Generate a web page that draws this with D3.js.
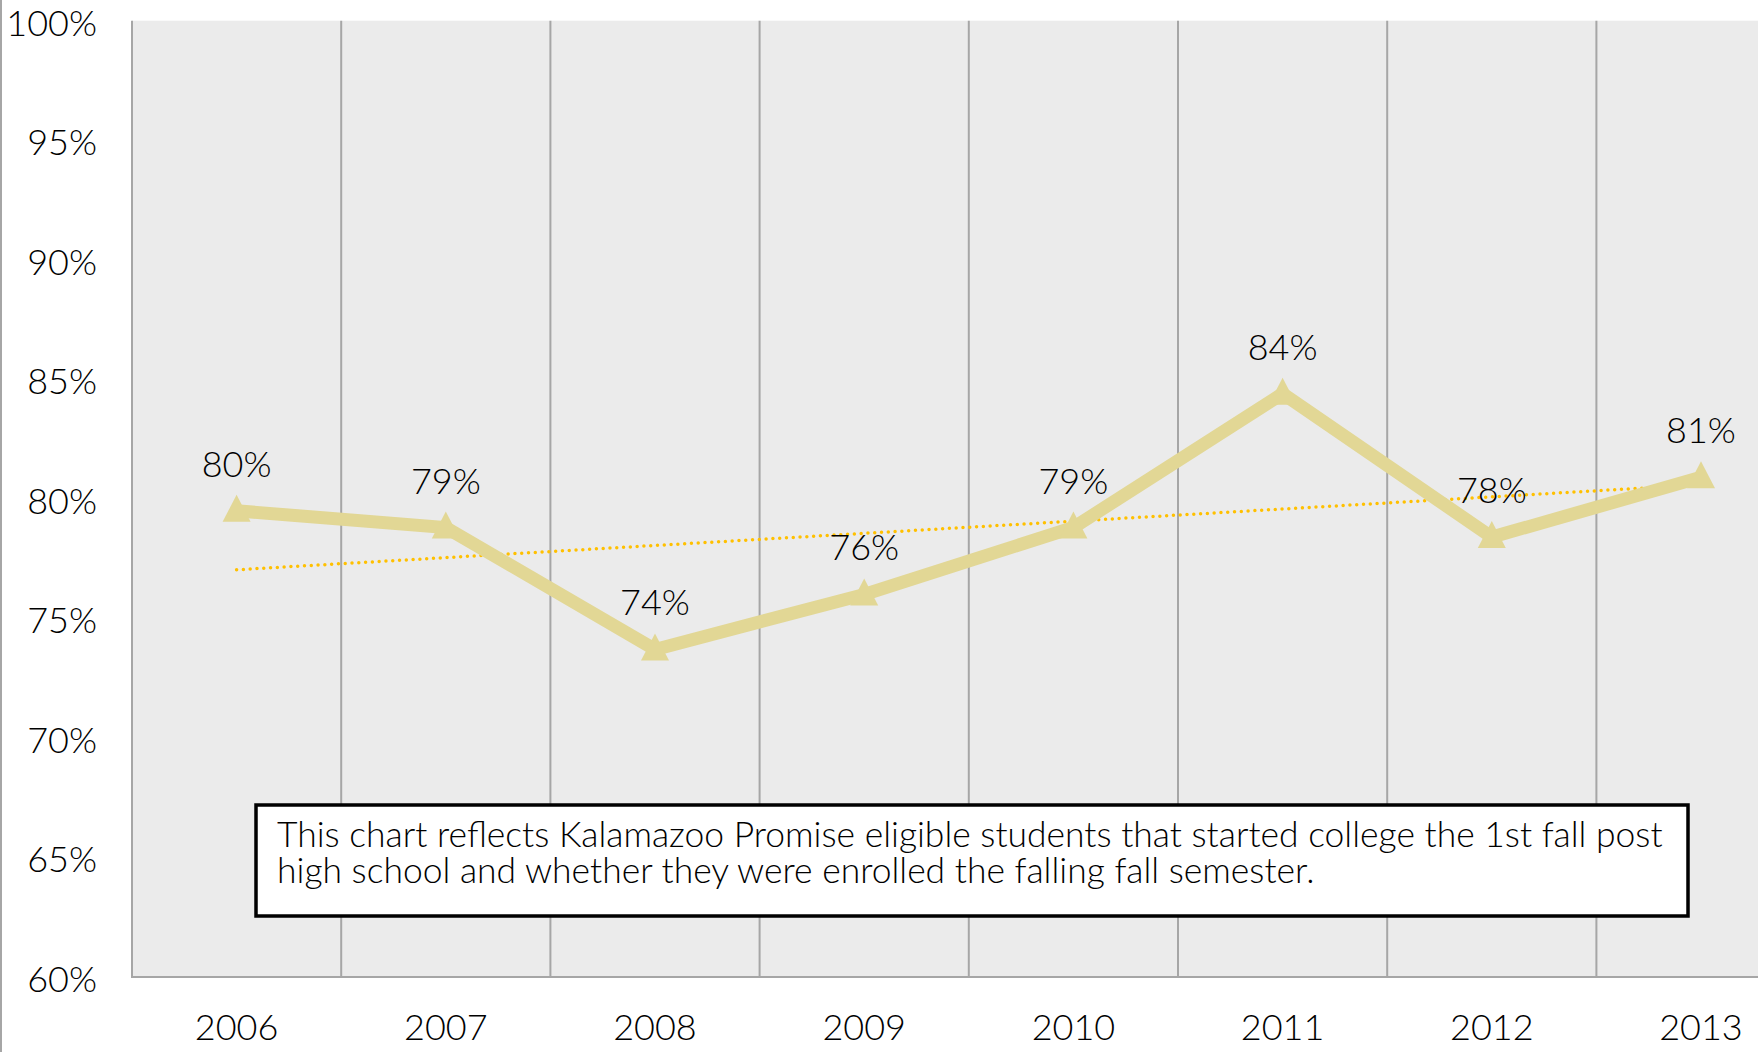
<!DOCTYPE html>
<html>
<head>
<meta charset="utf-8">
<script src="https://d3js.org/d3.v7.min.js"></script>
<style>
	html, body { margin: 0; padding: 0; background: #ffffff; }
	svg { display: block; }
</style>
</head>
<body>
<div id="chart"></div>
<script>
//-------------------------------------
// data
//-------------------------------------
var years = ["2006", "2007", "2008", "2009", "2010", "2011", "2012", "2013"];
var rates = [79.5, 78.8, 73.7, 76.0, 78.8, 84.4, 78.4, 80.9];
var yTicks = [60, 65, 70, 75, 80, 85, 90, 95, 100];
var noteLines = [
	"This chart reflects Kalamazoo Promise eligible students that started college the 1st fall post",
	"high school and whether they were enrolled the falling fall semester."
];

var width = 1758;
var height = 1052;
var font = "Lato, 'Open Sans', sans-serif";
var weight = 300;

//make field
var svg = d3.select("#chart")
	.append("svg")
	.attr("width", width)
	.attr("height", height);

var plotLeft = 132;
var plotTop = 20.7;
var plotBottom = 977;
var step = 209.2;

var x = d3.scaleBand()
	.domain(years)
	.range([plotLeft, plotLeft + step * years.length])
	.padding(0);

var y = d3.scaleLinear()
	.domain([60, 100])
	.range([plotBottom, plotTop]);

function cx(d) { return x(d) + x.bandwidth() / 2; }

// left border of the picture
svg.append("line")
	.attr("x1", 1).attr("x2", 1)
	.attr("y1", 0).attr("y2", height)
	.style("stroke", "#a6a6a6")
	.style("stroke-width", 2);

//-------------------------------------
// plot area
//-------------------------------------
svg.append("rect")
	.attr("x", plotLeft)
	.attr("y", plotTop)
	.attr("width", width - plotLeft)
	.attr("height", plotBottom - plotTop)
	.style("fill", "#ebebeb");

// vertical grid at category edges
svg.append("g")
	.selectAll("line")
	.data(years)
	.enter()
	.append("line")
	.attr("x1", function(d) { return x(d); })
	.attr("x2", function(d) { return x(d); })
	.attr("y1", plotTop)
	.attr("y2", plotBottom)
	.style("stroke", "#a6a6a6")
	.style("stroke-width", 2);

svg.append("line")
	.attr("x1", plotLeft - 1).attr("x2", width)
	.attr("y1", plotBottom).attr("y2", plotBottom)
	.style("stroke", "#a6a6a6")
	.style("stroke-width", 2);

//-------------------------------------
// axes labels
//-------------------------------------
svg.append("g")
	.selectAll("text")
	.data(yTicks)
	.enter()
	.append("text")
	.attr("x", 97)
	.attr("y", function(d) { return y(d) + 2; })
	.attr("dy", "0.36em")
	.attr("text-anchor", "end")
	.style("font-family", font)
	.style("font-weight", weight)
	.style("font-size", "36px")
	.style("fill", "#000")
	.text(function(d) { return d + "%"; });

svg.append("g")
	.selectAll("text")
	.data(years)
	.enter()
	.append("text")
	.attr("x", cx)
	.attr("y", 1040)
	.attr("text-anchor", "middle")
	.style("font-family", font)
	.style("font-weight", weight)
	.style("font-size", "36px")
	.style("fill", "#000")
	.text(function(d) { return d; });

//-------------------------------------
// trend line (least squares)
//-------------------------------------
var xs = d3.range(years.length);
var mx = d3.mean(xs);
var my = d3.mean(rates);
var sxy = d3.sum(xs, function(i) { return (i - mx) * (rates[i] - my); });
var sxx = d3.sum(xs, function(i) { return (i - mx) * (i - mx); });
var slope = sxy / sxx;
var icpt = my - slope * mx;

svg.append("line")
	.attr("x1", cx(years[0]))
	.attr("y1", y(icpt))
	.attr("x2", cx(years[years.length - 1]))
	.attr("y2", y(icpt + slope * (years.length - 1)))
	.style("stroke", "#ffc000")
	.style("stroke-width", 3.5)
	.style("stroke-linecap", "round")
	.style("stroke-dasharray", "0,6.8");

//-------------------------------------
// series
//-------------------------------------
var line = d3.line()
	.x(function(d, i) { return cx(years[i]); })
	.y(function(d) { return y(d); });

svg.append("path")
	.datum(rates)
	.attr("d", line)
	.style("fill", "none")
	.style("stroke", "#e2d795")
	.style("stroke-width", 13)
	.style("stroke-linejoin", "miter");

// marker: 28 wide, apex 16 above the point, base 11 below
function triangle() {
	var p = d3.path();
	p.moveTo(0, -16);
	p.lineTo(14, 11);
	p.lineTo(-14, 11);
	p.closePath();
	return p.toString();
}

svg.append("g")
	.selectAll("path")
	.data(rates)
	.enter()
	.append("path")
	.attr("d", triangle)
	.attr("transform", function(d, i) {
		return "translate(" + cx(years[i]) + "," + y(d) + ")";
	})
	.style("fill", "#e2d795");

svg.append("g")
	.selectAll("text")
	.data(rates)
	.enter()
	.append("text")
	.attr("x", function(d, i) { return cx(years[i]); })
	.attr("y", function(d) { return y(d) - 34; })
	.attr("text-anchor", "middle")
	.style("font-family", font)
	.style("font-weight", weight)
	.style("font-size", "36px")
	.style("fill", "#000")
	.text(function(d) { return Math.round(d) + "%"; });

//-------------------------------------
// note box
//-------------------------------------
svg.append("rect")
	.attr("x", 256)
	.attr("y", 805)
	.attr("width", 1688 - 256)
	.attr("height", 916 - 805)
	.style("fill", "#ffffff")
	.style("stroke", "#000")
	.style("stroke-width", 3.5);

var note = svg.append("g")
	.selectAll("text")
	.data(noteLines)
	.enter()
	.append("text")
	.attr("x", 277)
	.attr("y", function(d, i) { return 847 + i * 36; })
	.style("font-family", font)
	.style("font-weight", weight)
	.style("font-size", "31px")
	.style("fill", "#000")
	.text(function(d) { return d; });

// fit the first line to its width in the picture
var w0 = note.nodes()[0].getComputedTextLength();
var fs = 31 * 1386 / w0;
note.style("font-size", fs + "px");
</script>
</body>
</html>
